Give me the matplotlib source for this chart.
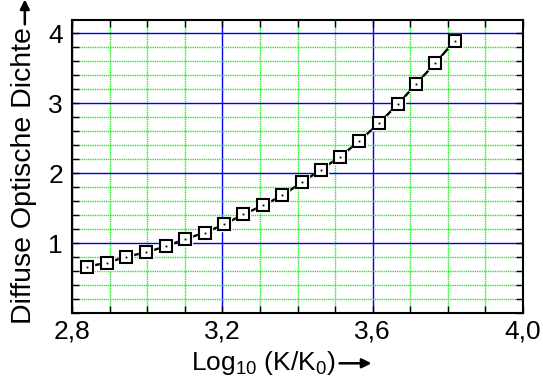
import numpy as np
import matplotlib
matplotlib.use('Agg')
import matplotlib.pyplot as plt
from matplotlib.ticker import MultipleLocator, FixedLocator

plt.rcParams['font.family'] = ['Liberation Sans', 'DejaVu Sans']
plt.rcParams['mathtext.fontset'] = 'custom'
plt.rcParams['mathtext.rm'] = 'Liberation Sans'
plt.rcParams['mathtext.it'] = 'Liberation Sans:italic'

# data
log_k = [2.840, 2.893, 2.945, 2.997, 3.049, 3.101, 3.153, 3.205, 3.256, 3.308,
         3.360, 3.411, 3.462, 3.513, 3.564, 3.616, 3.668, 3.715, 3.767, 3.819]
density = [0.662, 0.719, 0.805, 0.867, 0.952, 1.057, 1.148, 1.267, 1.410, 1.538,
           1.681, 1.867, 2.048, 2.233, 2.457, 2.710, 2.990, 3.271, 3.576, 3.895]

x_ticks = [2.8, 3.2, 3.6, 4.0]
x_ticklabels = ['2,8', '3,2', '3,6', '4,0']
y_ticks = [1, 2, 3, 4]

W, H = 543, 376
fig = plt.figure(figsize=(W / 100, H / 100), dpi=100)
ax = fig.add_axes([0.1326, 0.1676, 0.8306, 0.7793])

# curve with white halo around each square marker
ax.plot(log_k, density, color='black', lw=1.7, zorder=3)
ax.plot(log_k, density, ls='none', marker='s', ms=10.5, mfc='white', mec='white', zorder=4)
ax.plot(log_k, density, ls='none', marker='s', ms=8, mfc='white', mec='black', mew=1.5, zorder=5)
ax.plot(log_k, density, ls='none', marker='s', ms=1.3, mfc='black', mec='black', mew=0, zorder=6)

ax.set_xlim(2.8, 4.0)
ax.set_ylim(0, 4.19)

ax.xaxis.set_major_locator(FixedLocator(x_ticks))
ax.set_xticklabels(x_ticklabels)
ax.xaxis.set_minor_locator(MultipleLocator(0.1))
ax.yaxis.set_major_locator(FixedLocator(y_ticks))
ax.yaxis.set_minor_locator(MultipleLocator(0.2))

ax.tick_params(which='both', direction='in', top=True, right=True, length=5, width=1, color='black')
ax.tick_params(axis='y', labelsize=19, pad=6.5)
ax.tick_params(axis='x', labelsize=19, pad=5)

ax.grid(which='major', color='#0000ee', lw=1, ls='-', zorder=1)
ax.grid(which='minor', color='#22ee22', lw=1, ls=(0, (1, 0.6)), zorder=1)
ax.set_axisbelow(True)

for sp in ax.spines.values():
    sp.set_linewidth(1.5)
    sp.set_zorder(7)

yl = ax.set_ylabel('Diffuse Optische Dichte', fontsize=20.5)
ax.yaxis.set_label_coords(-0.078, 0.468)
xl = ax.set_xlabel(r'Log$_{10}$ (K/K$_{0}$)', fontsize=19)
ax.xaxis.set_label_coords(0.424, -0.124)

# arrows after the axis labels
fig.canvas.draw()
arrow = dict(arrowstyle='-|>', lw=1.8, color='black', mutation_scale=14, shrinkA=0, shrinkB=0)
bx = xl.get_window_extent()
ax_y = bx.y1 - 14
ax.annotate('', xy=(bx.x1 + 36, ax_y), xytext=(bx.x1 + 4, ax_y),
            xycoords='figure pixels', textcoords='figure pixels', arrowprops=arrow,
            annotation_clip=False)
by = yl.get_window_extent()
ay_x = (by.x0 + by.x1) / 2 + 1
ax.annotate('', xy=(ay_x, by.y1 + 28), xytext=(ay_x, by.y1 + 3),
            xycoords='figure pixels', textcoords='figure pixels', arrowprops=arrow,
            annotation_clip=False)

fig.savefig('out.png', dpi=100)
